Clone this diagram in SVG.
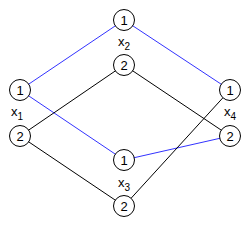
<svg xmlns="http://www.w3.org/2000/svg" width="250" height="228" viewBox="0 0 250 228">
<style>
.n circle{fill:#fff;stroke:#000;stroke-width:1}
.n text,.lbl{font-family:"Liberation Sans",Arial,sans-serif;font-size:13px;fill:#000;text-anchor:middle}
.sub{font-size:10px}
.b{stroke:#3333ff;stroke-width:1;fill:none}
.k{stroke:#000;stroke-width:1;fill:none}
</style>
<rect width="250" height="228" fill="#fff"/>
<g id="connectors">
<line class="b" x1="20" y1="90" x2="124" y2="20"/>
<line class="b" x1="124" y1="20" x2="230" y2="90"/>
<line class="b" x1="20" y1="90" x2="124" y2="160"/>
<line class="b" x1="124" y1="160" x2="230" y2="136"/>
<line class="k" x1="20" y1="136" x2="124" y2="65"/>
<line class="k" x1="124" y1="65" x2="230" y2="136"/>
<line class="k" x1="20" y1="136" x2="124" y2="206"/>
<line class="k" x1="124" y1="206" x2="230" y2="90"/>
</g>
<g id="x2_1" class="n"><circle cx="124" cy="20" r="10.5"/><text x="124" y="24.5">1</text></g>
<g id="x2_2" class="n"><circle cx="124" cy="65" r="10.5"/><text x="124" y="69.5">2</text></g>
<g id="x1_1" class="n"><circle cx="20" cy="90" r="10.5"/><text x="20" y="94.5">1</text></g>
<g id="x1_2" class="n"><circle cx="20" cy="136" r="10.5"/><text x="20" y="140.5">2</text></g>
<g id="x4_1" class="n"><circle cx="230" cy="90" r="10.5"/><text x="230" y="94.5">1</text></g>
<g id="x4_2" class="n"><circle cx="230" cy="136" r="10.5"/><text x="230" y="140.5">2</text></g>
<g id="x3_1" class="n"><circle cx="124" cy="160" r="10.5"/><text x="124" y="164.5">1</text></g>
<g id="x3_2" class="n"><circle cx="124" cy="206" r="10.5"/><text x="124" y="210.5">2</text></g>
<g id="labels">
<text class="lbl" x="17" y="116">x<tspan class="sub" dy="4">1</tspan></text>
<text class="lbl" x="124" y="46">x<tspan class="sub" dy="4">2</tspan></text>
<text class="lbl" x="124" y="187">x<tspan class="sub" dy="4">3</tspan></text>
<text class="lbl" x="230" y="116">x<tspan class="sub" dy="4">4</tspan></text>
</g>
</svg>
